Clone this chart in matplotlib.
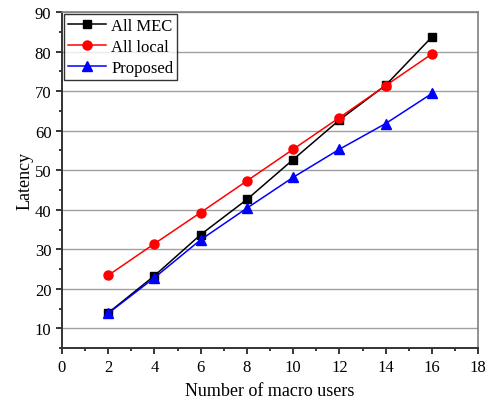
import numpy as np
import matplotlib
matplotlib.use('Agg')
import matplotlib.pyplot as plt
from matplotlib.ticker import MultipleLocator

plt.rcParams['font.family'] = ['Liberation Serif', 'DejaVu Serif']

users = [2, 4, 6, 8, 10, 12, 14, 16]
all_mec = [13.9, 23.3, 33.7, 42.6, 52.7, 62.7, 71.5, 83.7]
all_local = [23.4, 31.4, 39.3, 47.3, 55.3, 63.3, 71.4, 79.4]
proposed = [13.8, 22.8, 32.4, 40.4, 48.2, 55.3, 61.8, 69.4]

fig = plt.figure(figsize=(4.91, 4.06), dpi=100)
ax = fig.add_axes([0.126, 0.140, 0.848, 0.828])

ax.plot(users, all_mec, color='black', marker='s', markersize=5.5, linewidth=1.1, label='All MEC')
ax.plot(users, all_local, color='red', marker='o', markersize=6.5, linewidth=1.1, label='All local')
ax.plot(users, proposed, color='blue', marker='^', markersize=7, linewidth=1.1, label='Proposed')

ax.set_xlim(0, 18)
ax.set_ylim(5, 90)
ax.xaxis.set_major_locator(MultipleLocator(2))
ax.xaxis.set_minor_locator(MultipleLocator(1))
ax.yaxis.set_minor_locator(MultipleLocator(5))
ax.set_yticks(np.arange(10, 91, 10))
ax.tick_params(axis='both', which='major', direction='out', length=4.5, width=1.1,
               labelsize=12, pad=3)
ax.tick_params(axis='both', which='minor', direction='out', length=2.5, width=1.1)
ax.grid(axis='y', which='major', color='#a0a0a0', linewidth=1)
ax.set_axisbelow(True)

for side in ['left', 'bottom']:
    ax.spines[side].set_color('#333333')
    ax.spines[side].set_linewidth(1.4)
for side in ['top', 'right']:
    ax.spines[side].set_color('#808080')
    ax.spines[side].set_linewidth(1.2)

ax.set_xlabel('Number of macro users', fontsize=13, labelpad=5)
ax.set_ylabel('Latency', fontsize=13, labelpad=1)

leg = ax.legend(loc='upper left', fontsize=12, frameon=True, fancybox=False,
                edgecolor='black', borderpad=0.25, labelspacing=0.3,
                handlelength=2.3, handletextpad=0.3, borderaxespad=0.1)
leg.get_frame().set_linewidth(1)

fig.savefig('out.png', dpi=100)
